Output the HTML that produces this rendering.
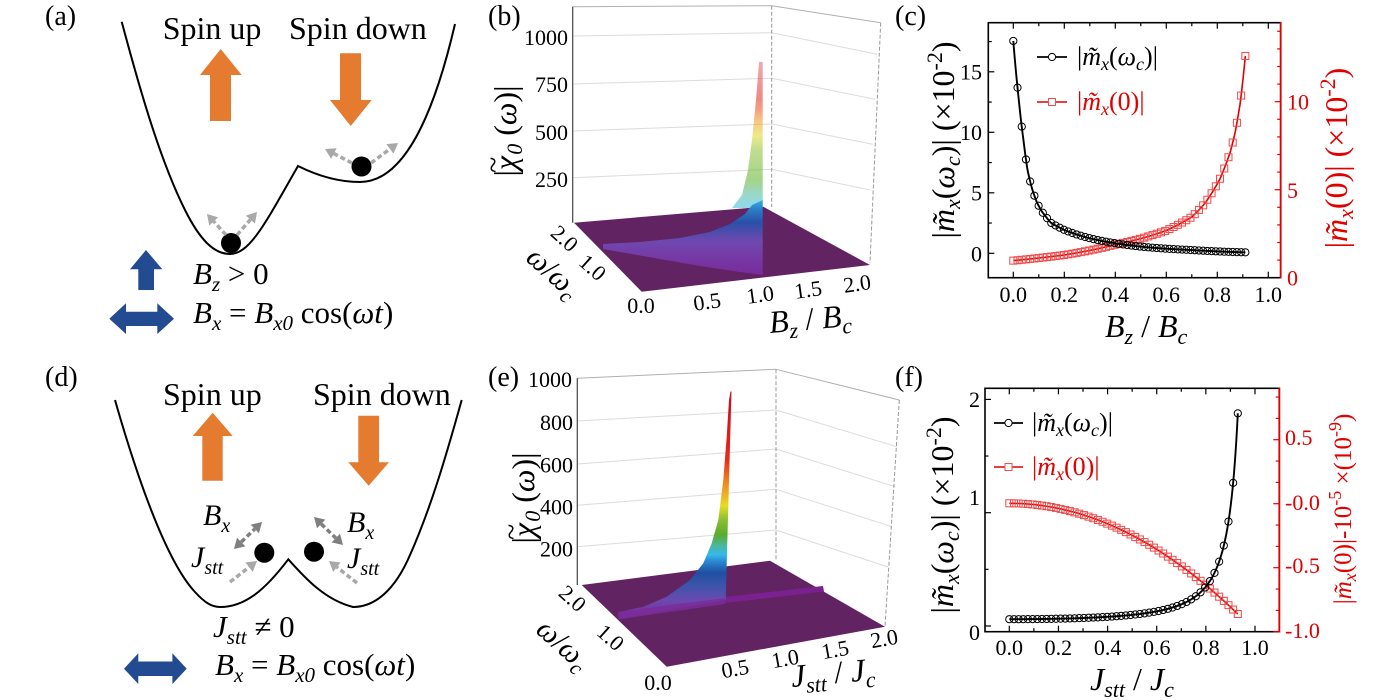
<!DOCTYPE html>
<html><head><meta charset="utf-8"><title>fig</title>
<style>
html,body{margin:0;padding:0;background:#fff;width:1400px;height:700px;overflow:hidden}
svg{display:block;font-family:"Liberation Serif","DejaVu Serif",serif}
.i{font-style:italic}
</style></head><body>
<svg id="fig" width="1400" height="700" viewBox="0 0 1400 700" xmlns="http://www.w3.org/2000/svg">
<defs>
 <linearGradient id="ge" gradientUnits="userSpaceOnUse" x1="0" y1="615" x2="0" y2="392">
  <stop offset="0" stop-color="#7a2d9a"/>
  <stop offset="0.067" stop-color="#6a4ab0"/>
  <stop offset="0.135" stop-color="#3a55aa"/>
  <stop offset="0.19" stop-color="#1f4fa0"/>
  <stop offset="0.24" stop-color="#2a88d0"/>
  <stop offset="0.27" stop-color="#35b8ea"/>
  <stop offset="0.31" stop-color="#4ab8a0"/>
  <stop offset="0.36" stop-color="#5aac2c"/>
  <stop offset="0.43" stop-color="#8ec030"/>
  <stop offset="0.49" stop-color="#e6dc28"/>
  <stop offset="0.56" stop-color="#f0a020"/>
  <stop offset="0.61" stop-color="#ee7a1a"/>
  <stop offset="0.70" stop-color="#e42a1c"/>
  <stop offset="0.87" stop-color="#d81818"/>
  <stop offset="1" stop-color="#c01020"/>
 </linearGradient>
 <linearGradient id="gb1" gradientUnits="userSpaceOnUse" x1="0" y1="275" x2="0" y2="200">
  <stop offset="0" stop-color="#7a2a9a"/>
  <stop offset="0.45" stop-color="#7048b0"/>
  <stop offset="0.7" stop-color="#2a50a8"/>
  <stop offset="0.88" stop-color="#2a80c8"/>
  <stop offset="1" stop-color="#35b0e0"/>
 </linearGradient>
 <linearGradient id="gb2" gradientUnits="userSpaceOnUse" x1="0" y1="210" x2="0" y2="62">
  <stop offset="0" stop-color="#35b8e8"/>
  <stop offset="0.1" stop-color="#45b8a0"/>
  <stop offset="0.2" stop-color="#5ab02a"/>
  <stop offset="0.4" stop-color="#8cc030"/>
  <stop offset="0.5" stop-color="#e0d828"/>
  <stop offset="0.6" stop-color="#f09a20"/>
  <stop offset="0.68" stop-color="#ee5020"/>
  <stop offset="0.75" stop-color="#e02a20"/>
  <stop offset="1" stop-color="#e86070"/>
 </linearGradient>
</defs>
<rect width="1400" height="700" fill="#fff"/>

<!-- ===== Panel (a) ===== -->
<text x="45" y="25" font-size="28">(a)</text>
<text x="162.7" y="39" font-size="32">Spin up</text>
<text x="289" y="39" font-size="32">Spin down</text>
<path d="M121.7,21.7 C140,90 160,160 185,210 C200,240 214,254 230,254 C250,254 266,222 298,166 C318,176 338,182 360,182 C395,182 428,140 455,24" fill="none" stroke="#000" stroke-width="2"/>
<polygon points="220.7,49 241.7,75 231,75 231,121 210,121 210,75 200,75" fill="#e47b2f"/>
<polygon points="340,53.3 361,53.3 361,100 371.7,100 350.7,126 330,100 340,100" fill="#e47b2f"/>
<circle cx="231" cy="243" r="10" fill="#000"/>
<circle cx="361.5" cy="166.5" r="10" fill="#000"/>
<polygon points="146,250 162.3,269.3 154,269.3 154,290 138.3,290 138.3,269.3 130,269.3" fill="#234b92"/>
<polygon points="109.3,318.7 126,303.3 126,311.7 157.3,311.7 157.3,303.3 174,318.7 157.3,334 157.3,326 126,326 126,334" fill="#234b92"/>
<text x="193" y="284" font-size="31"><tspan class="i">B</tspan><tspan class="i" font-size="21" dy="7">z</tspan><tspan dy="-7"> &gt; 0</tspan></text>
<text x="193" y="323" font-size="31"><tspan class="i">B</tspan><tspan class="i" font-size="21" dy="7">x</tspan><tspan dy="-7"> = </tspan><tspan class="i">B</tspan><tspan class="i" font-size="21" dy="7">x0</tspan><tspan dy="-7"> cos(</tspan><tspan class="i">ωt</tspan>)</text>

<!-- ===== Panel (d) ===== -->
<text x="45" y="386" font-size="28">(d)</text>
<text x="163" y="405" font-size="32">Spin up</text>
<text x="313" y="405" font-size="32">Spin down</text>
<path d="M115,400 C135,470 165,560 195,592 C205,603 212,607 220,607 C245,607 265,590 288.3,559.3 C305,578 325,600 353,607 C375,607 395,590 410,555 C430,510 445,460 461.7,400" fill="none" stroke="#000" stroke-width="2"/>
<polygon points="212.7,412.7 232.7,436 222.7,436 222.7,480.7 202.3,480.7 202.3,436 192.7,436" fill="#e47b2f"/>
<polygon points="358.3,415.7 379,415.7 379,462.3 389,462.3 368.7,485.7 348.3,462.3 358.3,462.3" fill="#e47b2f"/>
<circle cx="264.3" cy="552.7" r="10" fill="#000"/>
<circle cx="314" cy="551.7" r="10" fill="#000"/>
<polygon points="124,668.7 138.3,653.3 138.3,661.5 172.4,661.5 172.4,653.3 186.7,668.7 172.4,684 172.4,676 138.3,676 138.3,684" fill="#234b92"/>
<text x="203" y="525" font-size="30"><tspan class="i">B</tspan><tspan class="i" font-size="20" dy="7">x</tspan></text>
<text x="191" y="567" font-size="30"><tspan class="i">J</tspan><tspan class="i" font-size="20" dy="7">stt</tspan></text>
<text x="347" y="532" font-size="30"><tspan class="i">B</tspan><tspan class="i" font-size="20" dy="7">x</tspan></text>
<text x="347" y="568" font-size="30"><tspan class="i">J</tspan><tspan class="i" font-size="20" dy="7">stt</tspan></text>
<text x="213" y="637" font-size="31"><tspan class="i">J</tspan><tspan class="i" font-size="21" dy="7">stt</tspan><tspan dy="-7"> ≠ 0</tspan></text>
<text x="215" y="675" font-size="31"><tspan class="i">B</tspan><tspan class="i" font-size="21" dy="7">x</tspan><tspan dy="-7"> = </tspan><tspan class="i">B</tspan><tspan class="i" font-size="21" dy="7">x0</tspan><tspan dy="-7"> cos(</tspan><tspan class="i">ωt</tspan>)</text>

<!-- ===== Panel (b) ===== -->
<text x="488" y="25" font-size="28">(b)</text>
<g stroke="#dcdcdc" stroke-width="1">
 <line x1="572.7" y1="36" x2="771.7" y2="32.7"/>
 <line x1="572.7" y1="84" x2="771.7" y2="78.3"/>
 <line x1="572.7" y1="131" x2="771.7" y2="124"/>
 <line x1="572.7" y1="177.7" x2="771.7" y2="169.3"/>
 <line x1="771.7" y1="32.7" x2="877.3" y2="54.3"/>
 <line x1="771.7" y1="78.3" x2="875" y2="99.3"/>
 <line x1="771.7" y1="124" x2="872.7" y2="144.3"/>
 <line x1="771.7" y1="169.3" x2="870" y2="190"/>
</g>
<line x1="572.7" y1="6.7" x2="771.7" y2="5.7" stroke="#b0b0b0" stroke-width="1"/>
<line x1="771.7" y1="5.7" x2="880.7" y2="22.7" stroke="#b0b0b0" stroke-width="1"/>
<line x1="771.7" y1="5.7" x2="771.7" y2="207" stroke="#999" stroke-width="1" stroke-dasharray="4 2"/>
<line x1="880.7" y1="22.7" x2="870" y2="263" stroke="#999" stroke-width="1" stroke-dasharray="4 2"/>
<line x1="572.7" y1="6.7" x2="572.7" y2="222.7" stroke="#444" stroke-width="1.2"/>
<polygon points="574,222.7 763.3,206.7 870,265 641.7,291.7" fill="#622363"/>
<polygon points="762.7,62 759,62 756,100 752,140 748,170 742,195 732,208 762.7,208" fill="url(#gb2)" opacity="0.55"/>
<polygon points="603,244 640,242 680,238 710,232 730,224 745,214 752,205 762.7,200 762.7,275 740,272 700,266 660,259 620,252 603,249" fill="url(#gb1)"/>
<g font-size="22" text-anchor="end">
 <text x="568" y="45">1000</text>
 <text x="568" y="92">750</text>
 <text x="568" y="140">500</text>
 <text x="568" y="187">250</text>
</g>
<text transform="translate(516,131) rotate(-90)" text-anchor="middle" font-size="32">|<tspan class="i">χ</tspan><tspan dx="-17" dy="-13" font-size="30">~</tspan><tspan class="i" font-size="22" dx="2" dy="19">0</tspan><tspan dy="-6"> (</tspan><tspan class="i">ω</tspan>)|</text>
<g font-size="22" text-anchor="middle">
 <text transform="translate(565,238) rotate(42)" dy="8">2.0</text>
 <text transform="translate(593,267) rotate(42)" dy="8">1.0</text>
 <text x="641" y="313">0.0</text>
 <text transform="translate(707,301) rotate(-8)" dy="8">0.5</text>
 <text transform="translate(760,294) rotate(-8)" dy="8">1.0</text>
 <text transform="translate(808,289) rotate(-8)" dy="8">1.5</text>
 <text transform="translate(857,283) rotate(-8)" dy="8">2.0</text>
</g>
<text transform="translate(553,273) rotate(42)" text-anchor="middle" dy="9" font-size="30"><tspan class="i">ω</tspan>/<tspan class="i">ω</tspan><tspan class="i" font-size="21" dy="6">c</tspan></text>
<text transform="translate(770,333) rotate(-5)" font-size="32"><tspan class="i">B</tspan><tspan class="i" font-size="22" dy="7">z</tspan><tspan dy="-7"> / </tspan><tspan class="i">B</tspan><tspan class="i" font-size="22" dy="7">c</tspan></text>

<!-- ===== Panel (e) ===== -->
<text x="488" y="386" font-size="28">(e)</text>
<g stroke="#dcdcdc" stroke-width="1">
 <line x1="577.3" y1="421" x2="776" y2="410"/>
 <line x1="577.3" y1="464" x2="776" y2="449"/>
 <line x1="577.3" y1="505.3" x2="776" y2="489.3"/>
 <line x1="577.3" y1="546.7" x2="776" y2="530"/>
 <line x1="776" y1="410" x2="896.7" y2="446.7"/>
 <line x1="776" y1="449" x2="895" y2="486.7"/>
 <line x1="776" y1="489.3" x2="891.7" y2="526.7"/>
 <line x1="776" y1="530" x2="888" y2="567"/>
</g>
<line x1="577.3" y1="378.3" x2="776" y2="369.3" stroke="#b0b0b0" stroke-width="1"/>
<line x1="776" y1="369.3" x2="899.3" y2="400" stroke="#b0b0b0" stroke-width="1"/>
<line x1="776" y1="369.3" x2="776" y2="560.7" stroke="#999" stroke-width="1" stroke-dasharray="4 2"/>
<line x1="899.3" y1="400" x2="885" y2="626.7" stroke="#999" stroke-width="1" stroke-dasharray="4 2"/>
<line x1="577.3" y1="378.3" x2="577.3" y2="585" stroke="#444" stroke-width="1.2"/>
<polygon points="581.7,585 770,560.7 885,626.7 666.7,666.7" fill="#622363"/>
<polygon points="725,597 823,586 824,591.5 725,603" fill="#7a2090"/>
<polygon points="620,611.7 643.3,606.7 666.7,596.7 690,580 703.3,563.3 711.7,543.3 718.3,520 723.3,480 726.7,436.7 729,400 730.5,391.5 731.5,391.5 725.7,600 620,618.5" fill="url(#ge)"/>
<polygon points="618,612 725,598 725,604 618,619.5" fill="#7a2d9a" opacity="0.85"/>
<g font-size="22" text-anchor="end">
 <text x="572" y="387">1000</text>
 <text x="573" y="430">800</text>
 <text x="573" y="472.7">600</text>
 <text x="573" y="514.3">400</text>
 <text x="573" y="556.7">200</text>
</g>
<text transform="translate(534,498) rotate(-90)" text-anchor="middle" font-size="32">|<tspan class="i">χ</tspan><tspan dx="-17" dy="-13" font-size="30">~</tspan><tspan class="i" font-size="22" dx="2" dy="19">0</tspan><tspan dy="-6"> (</tspan><tspan class="i">ω</tspan>)|</text>
<g font-size="22" text-anchor="middle">
 <text transform="translate(573,598) rotate(42)" dy="8">2.0</text>
 <text transform="translate(611,637) rotate(42)" dy="8">1.0</text>
 <text x="658" y="690">0.0</text>
 <text transform="translate(735,668) rotate(-10)" dy="8">0.5</text>
 <text transform="translate(785,658) rotate(-10)" dy="8">1.0</text>
 <text transform="translate(835,649) rotate(-10)" dy="8">1.5</text>
 <text transform="translate(884,638) rotate(-10)" dy="8">2.0</text>
</g>
<text transform="translate(563,645) rotate(42)" text-anchor="middle" dy="9" font-size="30"><tspan class="i">ω</tspan>/<tspan class="i">ω</tspan><tspan class="i" font-size="21" dy="6">c</tspan></text>
<text transform="translate(792,687) rotate(-5)" font-size="32"><tspan class="i">J</tspan><tspan class="i" font-size="22" dy="7">stt</tspan><tspan dy="-7"> / </tspan><tspan class="i">J</tspan><tspan class="i" font-size="22" dy="7">c</tspan></text>

<!-- ===== Panel (c) ===== -->
<text x="895" y="25" font-size="28">(c)</text>
<rect x="988.3" y="22.7" width="292.4" height="255" fill="none" stroke="#000" stroke-width="1.6"/>
<line x1="1280.7" y1="22" x2="1280.7" y2="278.5" stroke="#e00000" stroke-width="1.8"/>
<g font-size="22" text-anchor="end">
 <text x="982" y="79.7">15</text>
 <text x="982" y="140">10</text>
 <text x="982" y="200.7">5</text>
 <text x="982" y="261.3">0</text>
</g>
<g font-size="22" text-anchor="middle">
 <text x="1013.3" y="302">0.0</text>
 <text x="1064.3" y="302">0.2</text>
 <text x="1115.3" y="302">0.4</text>
 <text x="1166.3" y="302">0.6</text>
 <text x="1217.3" y="302">0.8</text>
 <text x="1268.3" y="302">1.0</text>
</g>
<g font-size="22" fill="#e00000">
 <text x="1287" y="285.7">0</text>
 <text x="1287" y="198">5</text>
 <text x="1287" y="109.7">10</text>
</g>
<text transform="translate(954,140) rotate(-90)" text-anchor="middle" font-size="32">|<tspan class="i">m&#771;</tspan><tspan class="i" font-size="22" dy="6">x</tspan><tspan dy="-6">(</tspan><tspan class="i">ω</tspan><tspan class="i" font-size="22" dy="6">c</tspan><tspan dy="-6">)| (×10</tspan><tspan font-size="22" dy="-12">-2</tspan><tspan dy="12">)</tspan></text>
<text transform="translate(1347,158) rotate(-90)" text-anchor="middle" font-size="32" fill="#e00000">|<tspan class="i">m&#771;</tspan><tspan class="i" font-size="22" dy="6">x</tspan><tspan dy="-6">(0)| (×10</tspan><tspan font-size="22" dy="-12">-2</tspan><tspan dy="12">)</tspan></text>
<text x="1105" y="337" font-size="32"><tspan class="i">B</tspan><tspan class="i" font-size="22" dy="7">z</tspan><tspan dy="-7"> / </tspan><tspan class="i">B</tspan><tspan class="i" font-size="22" dy="7">c</tspan></text>
<line x1="1037" y1="57" x2="1067" y2="57" stroke="#000" stroke-width="1.8"/>
<circle cx="1052" cy="57" r="3.6" fill="#fff" stroke="#000" stroke-width="1"/>
<text x="1077" y="65" font-size="26">|<tspan class="i">m&#771;</tspan><tspan class="i" font-size="18" dy="5">x</tspan><tspan dy="-5">(</tspan><tspan class="i">ω</tspan><tspan class="i" font-size="18" dy="5">c</tspan><tspan dy="-5">)|</tspan></text>
<line x1="1037" y1="102" x2="1067" y2="102" stroke="#e00000" stroke-width="1.5"/>
<rect x="1048.5" y="98.5" width="7" height="7" fill="#fff" stroke="#f05050" stroke-width="1"/>
<text x="1077" y="110" font-size="26" fill="#e00000">|<tspan class="i">m&#771;</tspan><tspan class="i" font-size="18" dy="5">x</tspan><tspan dy="-5">(0)|</tspan></text>

<!-- ===== Panel (f) ===== -->
<text x="895" y="386" font-size="28">(f)</text>
<rect x="985" y="388.3" width="294.3" height="243.4" fill="none" stroke="#000" stroke-width="1.6"/>
<line x1="1279.3" y1="387.6" x2="1279.3" y2="632.5" stroke="#e00000" stroke-width="1.8"/>
<g font-size="22" text-anchor="end">
 <text x="980" y="407">2</text>
 <text x="980" y="505">1</text>
 <text x="980" y="640">0</text>
</g>
<g font-size="22" text-anchor="middle">
 <text x="1009.3" y="655">0.0</text>
 <text x="1058.4" y="655">0.2</text>
 <text x="1107.6" y="655">0.4</text>
 <text x="1156.7" y="655">0.6</text>
 <text x="1205.9" y="655">0.8</text>
 <text x="1255" y="655">1.0</text>
</g>
<g font-size="22" fill="#e00000">
 <text x="1285" y="445">0.5</text>
 <text x="1285" y="510">-0.0</text>
 <text x="1285" y="573">-0.5</text>
 <text x="1285" y="638">-1.0</text>
</g>
<text transform="translate(953,515) rotate(-90)" text-anchor="middle" font-size="32">|<tspan class="i">m&#771;</tspan><tspan class="i" font-size="22" dy="6">x</tspan><tspan dy="-6">(</tspan><tspan class="i">ω</tspan><tspan class="i" font-size="22" dy="6">c</tspan><tspan dy="-6">)| (×10</tspan><tspan font-size="22" dy="-12">-2</tspan><tspan dy="12">)</tspan></text>
<text transform="translate(1351,509) rotate(-90)" text-anchor="middle" font-size="25" fill="#e00000">|<tspan class="i">m&#771;</tspan><tspan class="i" font-size="18" dy="5">x</tspan><tspan dy="-5">(0)|-10</tspan><tspan font-size="18" dy="-10">-5</tspan><tspan dy="10"> ×(10</tspan><tspan font-size="18" dy="-10">-9</tspan><tspan dy="10">)</tspan></text>
<text x="1090" y="690" font-size="32"><tspan class="i">J</tspan><tspan class="i" font-size="22" dy="7">stt</tspan><tspan dy="-7"> / </tspan><tspan class="i">J</tspan><tspan class="i" font-size="22" dy="7">c</tspan></text>
<line x1="994" y1="423" x2="1023" y2="423" stroke="#000" stroke-width="1.8"/>
<circle cx="1008.5" cy="423" r="3.6" fill="#fff" stroke="#000" stroke-width="1"/>
<text x="1032" y="431" font-size="26">|<tspan class="i">m&#771;</tspan><tspan class="i" font-size="18" dy="5">x</tspan><tspan dy="-5">(</tspan><tspan class="i">ω</tspan><tspan class="i" font-size="18" dy="5">c</tspan><tspan dy="-5">)|</tspan></text>
<line x1="994" y1="467" x2="1023" y2="467" stroke="#e00000" stroke-width="1.5"/>
<rect x="1005" y="463.5" width="7" height="7" fill="#fff" stroke="#f05050" stroke-width="1"/>
<text x="1032" y="475" font-size="26" fill="#e00000">|<tspan class="i">m&#771;</tspan><tspan class="i" font-size="18" dy="5">x</tspan><tspan dy="-5">(0)|</tspan></text>

<g id="dyn"></g>
</svg>
<script>
(function(){
var NS="http://www.w3.org/2000/svg";
var G=document.getElementById("dyn");
function el(tag,a){var e=document.createElementNS(NS,tag);for(var k in a)e.setAttribute(k,a[k]);G.appendChild(e);return e;}
function ln(x1,y1,x2,y2,c,w){el("line",{x1:x1,y1:y1,x2:x2,y2:y2,stroke:c,"stroke-width":w});}
/* arrows */
function arrow(x1,y1,x2,y2,col,dbl,dash){
 var dx=x2-x1,dy=y2-y1,L=Math.hypot(dx,dy),ux=dx/L,uy=dy/L,px=-uy,py=ux,h=10,w=6;
 function head(tx,ty,vx,vy){var bx=tx-vx*h,by=ty-vy*h;el("polygon",{points:tx+","+ty+" "+(bx+px*w)+","+(by+py*w)+" "+(bx-px*w)+","+(by-py*w),fill:col});}
 var sx=x1,sy=y1;
 if(dbl){sx=x1+ux*h;sy=y1+uy*h;head(x1,y1,-ux,-uy);}
 el("line",{x1:sx,y1:sy,x2:x2-ux*h,y2:y2-uy*h,stroke:col,"stroke-width":3.5,"stroke-dasharray":dash?"5 3":"none"});
 head(x2,y2,ux,uy);
}
var lg="#a8a8a8",dg="#7f7f7f";
arrow(226,235,207,214,lg,false,true);
arrow(237,235,257,212,lg,false,true);
arrow(352,163,325,149,lg,false,true);
arrow(371,163,398,143,lg,false,true);
arrow(234,549,262,522,dg,true,true);
arrow(314,517,343,545,dg,true,true);
arrow(230,582,257,561,lg,false,true);
arrow(357,583,329,561,lg,false,true);

/* interpolation in log space */
function interp(t,x){
 if(x<=t[0][0])return t[0][1];
 for(var i=1;i<t.length;i++){if(x<=t[i][0]){var a=t[i-1],b=t[i],f=(x-a[0])/(b[0]-a[0]);return Math.exp(Math.log(a[1])*(1-f)+Math.log(b[1])*f);}}
 return t[t.length-1][1];
}
function poly(pts,c,w){el("polyline",{points:pts.map(function(p){return p[0].toFixed(2)+","+p[1].toFixed(2);}).join(" "),fill:"none",stroke:c,"stroke-width":w,"stroke-linejoin":"round"});}
function circ(x,y){el("circle",{cx:x,cy:y,r:3.6,fill:"none",stroke:"#000","stroke-width":1});}
function sq(x,y){el("rect",{x:x-3.5,y:y-3.5,width:7,height:7,fill:"none",stroke:"#f04848","stroke-width":1});}

/* ---- panel c ---- */
(function(){
 var X=function(x){return 1013.3+255*x;},YL=function(v){return 253.3-12.1*v;},YR=function(v){return 277.7-17.6*v;};
 var top=22.7,bot=277.7,left=988.3,right=1280.7;
 for(var k=1;k<=10;k++){var x=X(k*0.1),L=(k%2==0)?6:3.5;ln(x,bot,x,bot-L,"#000",1.2);ln(x,top,x,top+L,"#000",1.2);}
 ln(X(0),bot,X(0),bot-6,"#000",1.2);ln(X(0),top,X(0),top+6,"#000",1.2);
 for(var v=-2.5;v<=19;v+=2.5){var y=YL(v);if(y>bot||y<top)continue;var L=(Math.abs(v%5)<1e-6)?6:3.5;ln(left,y,left+L,y,"#000",1.2);}
 for(var r=1;r<=14;r++){var y=YR(r),L=(r%5==0)?6:3.5;ln(right,y,right-L,y,"#e00000",1.2);}
 var cb=[[0,17.55],[0.02,13.0],[0.04,9.34],[0.056,6.86],[0.074,5.31],[0.092,4.24],[0.11,3.52],[0.13,2.97],[0.147,2.53],[0.2,1.93],[0.3,1.24],[0.4,0.83],[0.5,0.55],[0.6,0.38],[0.7,0.27],[0.8,0.16],[0.91,0.08]];
 var cr=[[0,0.97],[0.2,1.29],[0.3,1.55],[0.4,1.88],[0.5,2.22],[0.6,2.68],[0.7,3.45],[0.75,4.2],[0.81,5.6],[0.85,7.1],[0.87,8.26],[0.89,9.93],[0.91,12.6]];
 var pr=[],pb=[];
 for(var i=0;i<=300;i++){var x=0.91*i/300;pr.push([X(x),YR(interp(cr,x))]);pb.push([X(x),YL(interp(cb,x))]);}
 poly(pr,"#e00000",1.6);
 var N=56;
 for(var i=0;i<N;i++){var x=0.91*i/(N-1);sq(X(x),YR(interp(cr,x)));}
 poly(pb,"#000",1.9);
 for(var i=0;i<N;i++){var x=0.91*i/(N-1);circ(X(x),YL(interp(cb,x)));}
})();

/* ---- panel f ---- */
(function(){
 var X=function(x){return 1009.3+245.7*x;},YL=function(v){return 626-113.3*v;},YR=function(v){return 503.3-128*v;};
 var top=388.3,bot=631.7,left=985,right=1279.3;
 for(var k=0;k<=10;k++){var x=X(k*0.1),L=(k%2==0)?6:3.5;ln(x,bot,x,bot-L,"#000",1.2);ln(x,top,x,top+L,"#000",1.2);}
 [0,0.5,1,1.5,2].forEach(function(v){var y=YL(v),L=(v%1==0)?6:3.5;ln(left,y,left+L,y,"#000",1.2);});
 for(var j=0;j<=11;j++){var y=bot-j*64/3;if(y<top)break;var L=(j%3==0)?6:3.5;ln(right,y,right-L,y,"#e00000",1.2);}
 var fb=function(x){return 0.06/Math.pow(1-x*x,1.72);},fr=function(x){return -x*x;};
 var pr=[],pb=[];
 for(var i=0;i<=300;i++){var x=0.93*i/300;pr.push([X(x),YR(fr(x))]);pb.push([X(x),YL(fb(x))]);}
 poly(pr,"#e00000",1.6);
 var N=50;
 for(var i=0;i<N;i++){var x=0.93*i/(N-1);sq(X(x),YR(fr(x)));}
 poly(pb,"#000",1.9);
 for(var i=0;i<N;i++){var x=0.93*i/(N-1);circ(X(x),YL(fb(x)));}
})();
})();
</script>
</body></html>
